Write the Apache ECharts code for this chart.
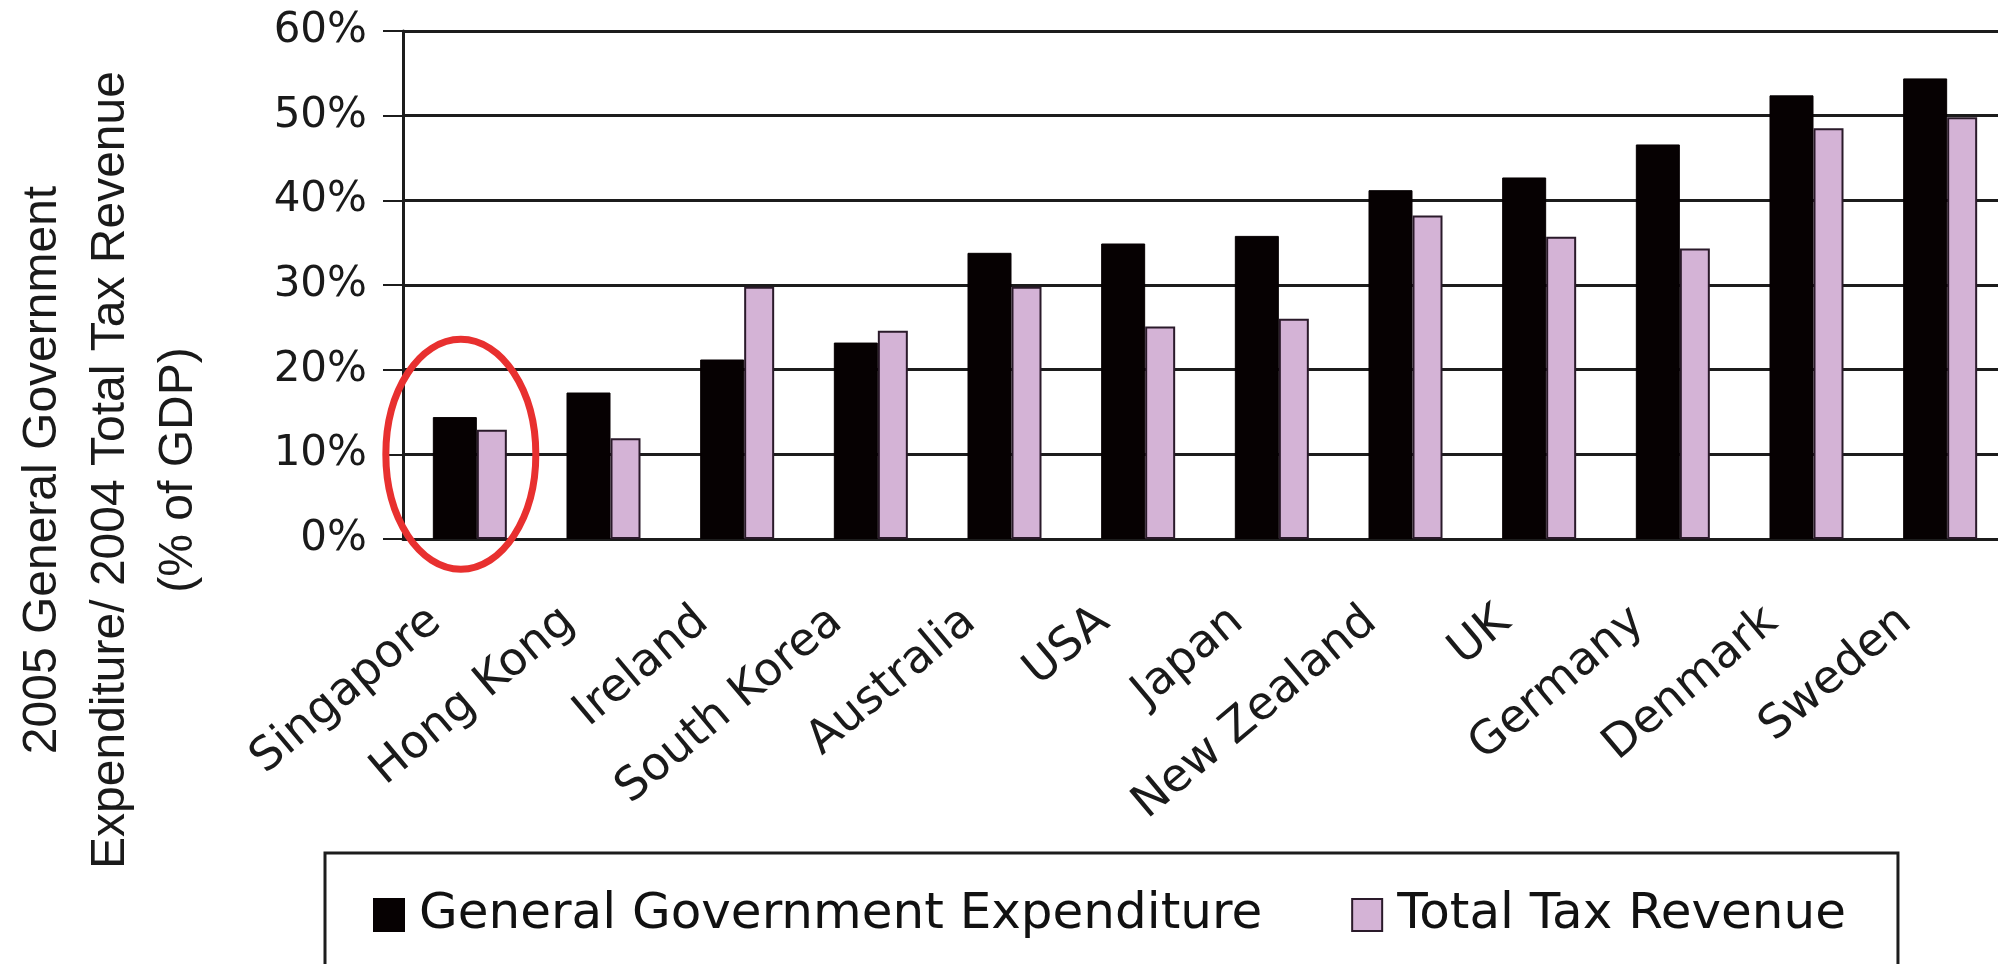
<!DOCTYPE html>
<html>
<head>
<meta charset="utf-8">
<script src="https://cdn.jsdelivr.net/npm/echarts@6/dist/echarts.min.js"></script>
<style>
  html, body { margin: 0; padding: 0; background: #fff; overflow: hidden; }
  #chart { width: 1998px; height: 964px; }
</style>
</head>
<body>
<div id="chart"></div>
<script>
// data (% of GDP)
const countries = ["Singapore", "Hong Kong", "Ireland", "South Korea", "Australia", "USA",
  "Japan", "New Zealand", "UK", "Germany", "Denmark", "Sweden"];
const expenditure = [14.4, 17.3, 21.2, 23.2, 33.8, 34.9, 35.8, 41.2, 42.7, 46.6, 52.4, 54.4];
const taxRevenue = [12.9, 11.9, 29.8, 24.6, 29.8, 25.1, 26.0, 38.2, 35.7, 34.3, 48.5, 49.8];
const yMin = 0;
const yMax = 60;
const yStep = 10;

const seriesNames = ["General Government Expenditure", "Total Tax Revenue"];
const axisTitle = "2005 General Government\nExpenditure/ 2004 Total Tax Revenue\n(% of GDP)";

const lineColor = "#1c1c1c";
const hFont = "DejaVu Sans";

const chart = echarts.init(document.getElementById("chart"), null, { renderer: "canvas" });

chart.setOption({
  animation: false,
  backgroundColor: "#fff",
  grid: {
    left: 403,
    right: -9,
    top: 31,
    bottom: 425,
    containLabel: false,
    outerBoundsMode: "none"
  },
  legend: {
    data: seriesNames,
    left: 325,
    top: 853,
    icon: "rect",
    itemWidth: 30,
    itemHeight: 32,
    itemGap: 89,
    padding: [37, 52, 80, 48],
    borderColor: lineColor,
    borderWidth: 3,
    textStyle: { fontFamily: hFont, fontSize: 50, color: "#111", padding: [0, 0, 0, 10] }
  },
  xAxis: {
    type: "category",
    data: countries,
    axisLine: { lineStyle: { color: lineColor, width: 3 } },
    axisTick: { length: 15, lineStyle: { color: lineColor, width: 2 } },
    axisLabel: {
      interval: 0,
      rotate: 40,
      margin: 48,
      padding: [0, 45, 0, 0],
      hideOverlap: false,
      fontFamily: hFont,
      fontSize: 46,
      color: "#1a1a1a"
    }
  },
  yAxis: {
    type: "value",
    min: yMin,
    max: yMax,
    interval: yStep,
    name: axisTitle,
    nameLocation: "middle",
    nameRotate: 90,
    nameGap: 190,
    nameTextStyle: {
      fontFamily: "Liberation Sans",
      fontSize: 48,
      lineHeight: 68,
      color: "#1a1a1a",
      padding: [0, 370, 0, 0]
    },
    axisLine: { show: true, lineStyle: { color: lineColor, width: 3 } },
    axisTick: { show: true, length: 20, lineStyle: { color: lineColor, width: 2 } },
    axisLabel: {
      margin: 36,
      showMinLabel: true,
      showMaxLabel: true,
      fontFamily: hFont,
      fontSize: 42,
      color: "#1a1a1a",
      formatter: "{value}%"
    },
    splitLine: { lineStyle: { color: lineColor, width: 3 } }
  },
  series: [
    {
      name: seriesNames[0],
      type: "bar",
      data: expenditure,
      barWidth: 44,
      barGap: "0%",
      itemStyle: { color: "#060102", borderColor: "#060102", borderWidth: 1 }
    },
    {
      name: seriesNames[1],
      type: "bar",
      data: taxRevenue,
      barWidth: 30,
      barGap: "0%",
      itemStyle: { color: "#d4b3d6", borderColor: "#2a1a2a", borderWidth: 2 }
    }
  ]
});

// red ring drawn round the Singapore pair
const ringCenter = chart.convertToPixel({ xAxisIndex: 0, yAxisIndex: 0 }, [countries[0], 10]);
chart.setOption({
  graphic: [{
    type: "ellipse",
    shape: { cx: ringCenter[0] - 9, cy: ringCenter[1], rx: 75, ry: 115 },
    style: { fill: null, stroke: "#e8302f", lineWidth: 7 },
    z: 100
  }]
});
</script>
</body>
</html>
